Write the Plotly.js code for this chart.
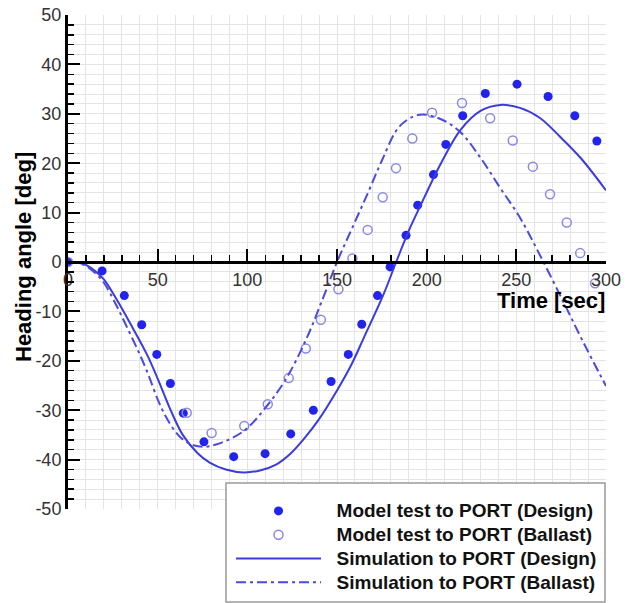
<!DOCTYPE html>
<html>
<head>
<meta charset="utf-8">
<script src="https://cdn.plot.ly/plotly-3.0.1.min.js"></script>
<style>html,body{margin:0;padding:0;background:#fff;}#chart{width:633px;height:603px;}</style>
</head>
<body>
<div id="chart"></div>
<script>
// Model test to PORT (Design) — filled circles
const modelDesignT = [0, 19, 31.4, 41.1, 49.5, 57.1, 64.3, 75.8, 92.4, 109.9, 124.2, 136.8, 146.7, 156.3, 163.8, 172.6, 179.6, 188.5, 195.0, 203.8, 210.7, 220.1, 232.7, 250.4, 267.7, 282.6, 294.9];
const modelDesignY = [0, -1.8, -6.8, -12.7, -18.7, -24.6, -30.6, -36.4, -39.4, -38.8, -34.8, -30.0, -24.2, -18.7, -12.6, -6.8, -1.0, 5.4, 11.5, 17.7, 23.8, 29.6, 34.1, 36.0, 33.5, 29.6, 24.5];

// Model test to PORT (Ballast) — open circles
const modelBallastT = [0, 66.2, 80.1, 98.3, 111.4, 123.1, 132.6, 141.0, 150.8, 158.6, 167.1, 175.5, 182.9, 192.0, 203.0, 219.7, 235.4, 248.0, 259.2, 268.8, 278.1, 285.6, 293.9];
const modelBallastY = [0, -30.5, -34.6, -33.2, -28.8, -23.5, -17.5, -11.7, -5.5, 0.7, 6.5, 13.1, 19.0, 25.0, 30.2, 32.2, 29.1, 24.6, 19.3, 13.7, 8.0, 1.8, -4.3];

// Simulation to PORT (Design) — solid line
const simDesignT = [0, 5, 10, 15, 20, 27, 36, 44, 50, 57, 64, 72, 79, 88, 98, 107, 116, 124, 132, 140, 150, 158, 165, 176, 183, 190, 196, 208, 219, 230, 241, 252, 263, 274, 286, 300];
const simDesignY = [0, -0.1, -0.6, -1.8, -3.5, -7.5, -13.3, -18.7, -23.6, -29.8, -35.0, -38.6, -40.6, -42.0, -42.6, -42.2, -41.0, -38.8, -35.6, -31.8, -26.0, -20.8, -15.3, -6.5, 0, 6.3, 11.0, 20.0, 26.8, 30.6, 31.8, 31.2, 29.2, 25.5, 21.0, 14.5];

// Simulation to PORT (Ballast) — dash-dot line
const simBallastT = [0, 5, 10, 15, 20, 27, 33, 40, 45, 50, 55, 60, 64, 70, 76, 83, 98, 111, 122, 133, 142, 150, 158, 167, 175, 185, 196, 208, 219, 230, 241, 252, 263, 276, 287, 300];
const simBallastY = [0, -0.1, -0.8, -2.2, -4.2, -8.8, -13.3, -18.7, -23.0, -27.8, -31.6, -34.4, -35.9, -37.1, -37.4, -36.9, -34.2, -29.1, -23.4, -15.5, -7.5, 0, 6.5, 13.8, 20.5, 27.5, 29.8, 28.9, 26.2, 21.1, 15.0, 9.0, 1.5, -7.9, -16.0, -25.1];

// Tick labels (hyphen minus as in the reference)
const yTickVals = [-50, -40, -30, -20, -10, 0, 10, 20, 30, 40, 50];
const yTickText = ["-50", "-40", "-30", "-20", "-10", "0", "10", "20", "30", "40", "50"];
const xTickVals = [0, 50, 100, 150, 200, 250, 300];
const xTickText = ["0", "50", "100", "150", "200", "250", "300"];

const seriesNames = [
  "Model test to PORT (Design)",
  "Model test to PORT (Ballast)",
  "Simulation to PORT (Design)",
  "Simulation to PORT (Ballast)"
];

const FONT = "Arial, 'Liberation Sans', Helvetica, sans-serif";
const nm = s => '<span style="font-size:19px">\u00a0\u00a0' + s + '</span>';

const traces = [
  {x: simDesignT, y: simDesignY, type: "scatter", mode: "lines", name: nm(seriesNames[2]),
   line: {color: "#3c3cdc", width: 2, shape: "spline", smoothing: 1}},
  {x: simBallastT, y: simBallastY, type: "scatter", mode: "lines", name: nm(seriesNames[3]),
   line: {color: "#4a4ade", width: 2, shape: "spline", smoothing: 1, dash: "10px,4px,3px,4px"}},
  {x: modelDesignT, y: modelDesignY, type: "scatter", mode: "markers", name: nm(seriesNames[0]),
   marker: {symbol: "circle", size: 9, color: "#2323ee"}},
  {x: modelBallastT, y: modelBallastY, type: "scatter", mode: "markers", name: nm(seriesNames[1]),
   marker: {symbol: "circle-open", size: 9, color: "#8a8ae4", line: {width: 1.5, color: "#8a8ae4"}}}
];

const layout = {
  width: 633, height: 603,
  margin: {l: 68, r: 27, t: 15, b: 94, pad: 0, autoexpand: false},
  paper_bgcolor: "#ffffff", plot_bgcolor: "#ffffff",
  showlegend: true,
  font: {family: FONT, color: "#222"},
  xaxis: {
    range: [0, 300], autorange: false,
    tickmode: "array", tickvals: xTickVals, ticktext: xTickText,
    anchor: "free", position: 0.5,
    showline: true, linewidth: 3, linecolor: "#000",
    ticks: "inside", ticklen: 12, tickwidth: 2, tickcolor: "#000",
    showgrid: true, gridcolor: "#e4e4e4", gridwidth: 1,
    zeroline: false,
    tickfont: {family: FONT, size: 18, color: "#333"},
    minor: {tickmode: "linear", tick0: 0, dtick: 10, ticks: "inside", ticklen: 6, tickwidth: 1.5, tickcolor: "#000",
            showgrid: true, gridcolor: "#e4e4e4", gridwidth: 1}
  },
  yaxis: {
    range: [-50, 50], autorange: false,
    tickmode: "array", tickvals: yTickVals, ticktext: yTickText,
    showline: true, linewidth: 3, linecolor: "#000",
    ticks: "inside", ticklen: 12, tickwidth: 2, tickcolor: "#000",
    showgrid: true, gridcolor: "#e4e4e4", gridwidth: 1,
    zeroline: false,
    tickfont: {family: FONT, size: 18, color: "#333"},
    minor: {tickmode: "linear", tick0: 0, dtick: 2, ticks: "inside", ticklen: 6, tickwidth: 1.5, tickcolor: "#000",
            showgrid: true, gridcolor: "#e4e4e4", gridwidth: 1}
  },
  shapes: [
    {type: "rect", xref: "paper", yref: "paper", layer: "above",
     x0: (226 - 68) / 538, x1: (605 - 68) / 538, y0: (509 - 602) / 494, y1: (509 - 483) / 494,
     fillcolor: "#ffffff", line: {color: "#9a9a9a", width: 1.5}}
  ],
  legend: {
    xref: "container", yref: "container",
    x: 231 / 633, xanchor: "left",
    y: 1 - 494 / 603, yanchor: "top",
    bgcolor: "rgba(0,0,0,0)", borderwidth: 0,
    itemwidth: 85,
    traceorder: "normal",
    font: {family: FONT, size: 16, color: "#111", weight: "bold"}
  },
  annotations: [
    {text: "<b>Time [sec]</b>", xref: "paper", yref: "paper", x: 1, xanchor: "right",
     y: (509 - 300) / 494, yanchor: "middle", showarrow: false, borderpad: 0,
     font: {family: FONT, size: 22, color: "#000"}},
    {text: "<b>Heading angle [deg]</b>", xref: "paper", yref: "paper", x: (23 - 68) / 538, xanchor: "center",
     y: (509 - 257) / 494, yanchor: "middle", showarrow: false, textangle: -90,
     font: {family: FONT, size: 22, color: "#000"}}
  ]
};

// legend order: markers first, then lines (as in reference)
const ordered = [traces[2], traces[3], traces[0], traces[1]];
Plotly.newPlot("chart", ordered, layout, {displayModeBar: false, staticPlot: true});
</script>
</body>
</html>
